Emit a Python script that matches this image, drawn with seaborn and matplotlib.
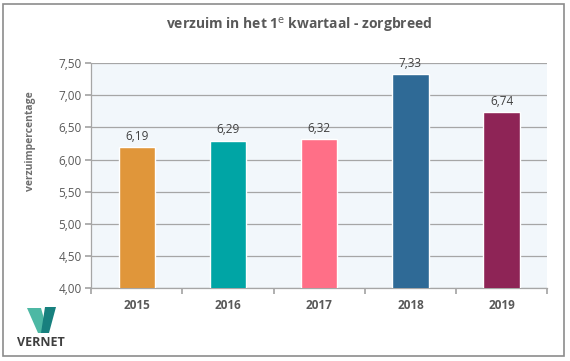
import matplotlib
matplotlib.use("Agg")
import matplotlib.pyplot as plt
from matplotlib.patches import Polygon, Rectangle
import seaborn as sns
import pandas as pd

# data
years = ["2015", "2016", "2017", "2018", "2019"]
verzuim = [6.19, 6.29, 6.32, 7.33, 6.74]
bar_colors = ["#E0963A", "#00A5A5", "#FF6F87", "#2F6A96", "#8E2456"]
y_ticks = [4.00, 4.50, 5.00, 5.50, 6.00, 6.50, 7.00, 7.50]

df = pd.DataFrame({"jaar": years, "verzuim": verzuim})

sns.set_theme(style="white")
plt.rcParams["font.family"] = ["Open Sans", "DejaVu Sans"]
grey = "#595959"

fig = plt.figure(figsize=(5.70, 3.61), dpi=100)
ax = fig.add_axes([0.160, 0.202, 0.800, 0.623])

sns.barplot(data=df, x="jaar", y="verzuim", hue="jaar", palette=bar_colors,
            legend=False, width=0.4, saturation=1, ax=ax, zorder=3)

ax.set_facecolor("#F2F7FB")
ax.set_ylim(4.0, 7.5)
ax.set_xlim(-0.5, 4.5)
ax.set_yticks(y_ticks)
ax.set_yticklabels([f"{v:.2f}".replace(".", ",") for v in y_ticks],
                   fontsize=8.5, color=grey)
ax.yaxis.grid(True, color="#A6A6A6", linewidth=0.9, zorder=0)
ax.set_axisbelow(True)

# x ticks at category boundaries, labels in the middle
ax.set_xticks([i + 0.5 for i in range(-1, 5)], minor=False)
ax.set_xticklabels([])
ax.set_xticks(range(5), minor=True)
ax.set_xticklabels(years, minor=True, fontsize=8.5, fontweight="bold", color=grey)
ax.tick_params(axis="x", which="major", direction="out", length=4, color="#A6A6A6",
               bottom=True)
ax.tick_params(axis="x", which="minor", length=0, pad=8)
ax.tick_params(axis="y", direction="out", length=4, color="#A6A6A6", left=True, pad=3)

for s in ["top", "right"]:
    ax.spines[s].set_visible(False)
for s in ["left", "bottom"]:
    ax.spines[s].set_color("#A6A6A6")
    ax.spines[s].set_linewidth(0.9)

ax.set_xlabel("")
ax.set_ylabel("verzuimpercentage", fontsize=7.5, fontweight="bold", color="#6F6F6F")
ax.yaxis.set_label_coords(-0.12, 0.655)

for i, v in enumerate(verzuim):
    ax.text(i, v + 0.07, f"{v:.2f}".replace(".", ","), ha="center", va="bottom",
            fontsize=8.5, color="#404040")

fig.text(0.525, 0.93, "verzuim in het 1$^{\\mathrm{e}}$ kwartaal - zorgbreed",
         ha="center", va="center", fontsize=10, fontweight="bold", color=grey)

# outer frame
fig.patches.append(Rectangle((3 / 570, 1 - 356 / 361), 561 / 570, 352 / 361,
                             transform=fig.transFigure, fill=False,
                             edgecolor="#8C8C8C", linewidth=1.2))

# logo
def fpt(x, y):
    return (x / 570, 1 - y / 361)

fig.patches.append(Polygon([fpt(27, 308), fpt(41, 308), fpt(48, 333), fpt(38, 333)],
                           closed=True, transform=fig.transFigure,
                           facecolor="#4DB8A4", edgecolor="none"))
fig.patches.append(Polygon([fpt(45, 307), fpt(56, 307), fpt(49, 333), fpt(41, 333)],
                           closed=True, transform=fig.transFigure,
                           facecolor="#17807E", edgecolor="none"))
fig.text(41 / 570, 1 - 343 / 361, "VERNET", ha="center", va="center",
         fontsize=9, fontweight="bold", color="#3F3F3F")

fig.savefig("out.png", dpi=100)
